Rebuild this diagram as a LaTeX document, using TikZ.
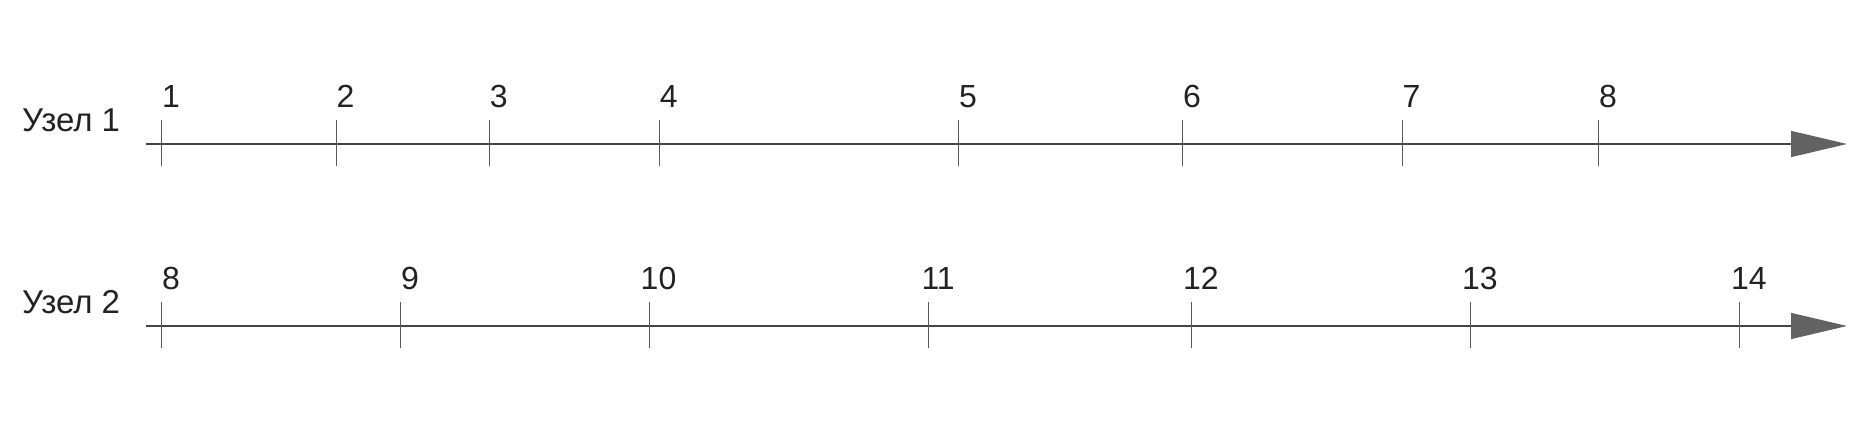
\documentclass[tikz,border=0pt]{standalone}
\usepackage{fontspec}
\setmainfont{Liberation Sans}
\usetikzlibrary{arrows.meta}
\definecolor{axisgray}{HTML}{444444}
\definecolor{tickgray}{HTML}{5A5A5A}
\definecolor{headgray}{HTML}{626262}
\definecolor{txt}{HTML}{222222}
\tikzset{
  axisline/.style={draw=axisgray,line width=1.3pt,-{Triangle[length=56pt,width=26pt,fill=headgray,color=headgray]}},
  tickline/.style={draw=tickgray,line width=1pt},
  rowlabel/.style={anchor=base west,inner sep=0pt,text=txt,font=\fontsize{33}{38}\selectfont},
  numlabel/.style={anchor=base,inner sep=0pt,text=txt,font=\fontsize{32}{37}\selectfont},
}
\begin{document}
\begin{tikzpicture}[x=1pt,y=-1pt]
\useasboundingbox (0,0) rectangle (1872,446);
% row 1
\node[rowlabel] (lab1) at (22,131.5) {Узел 1};
\coordinate (s1) at (146,144);
\coordinate (e1) at (1847,144);
\draw[axisline] (s1) -- (e1);
\foreach \x/\n in {161.5/1,336/2,489.3/3,659.3/4,958.5/5,1182.5/6,1402/7,1598.4/8}{
  \coordinate (a\n) at (\x,144);
  \draw[tickline] (a\n) ++(0,-24) -- ++(0,46);
  \node[numlabel] (na\n) at ([xshift=9.5pt,yshift=36pt]a\n) {\n};
}
% row 2
\node[rowlabel] (lab2) at (22,313.5) {Узел 2};
\coordinate (s2) at (146,326);
\coordinate (e2) at (1847,326);
\draw[axisline] (s2) -- (e2);
\foreach \x/\n in {161.5/8,400.4/9,649/10,928.6/11,1191.3/12,1470.3/13,1739.3/14}{
  \coordinate (b\n) at (\x,326);
  \draw[tickline] (b\n) ++(0,-24) -- ++(0,46);
  \node[numlabel] (nb\n) at ([xshift=9.5pt,yshift=36pt]b\n) {\n};
}
\end{tikzpicture}
\end{document}
